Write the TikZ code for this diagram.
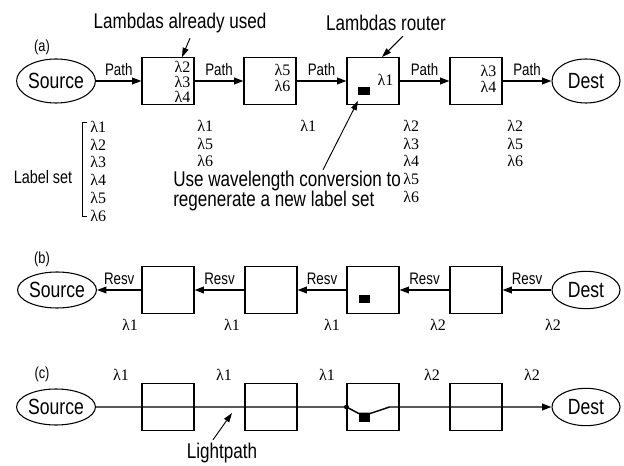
\documentclass[tikz,border=0pt]{standalone}
\usepackage{fontspec}
\setmainfont{Liberation Serif}
\newfontfamily\narrowsf[FakeStretch=0.8]{Liberation Sans}
\usetikzlibrary{shapes.geometric,arrows.meta,calc}

\begin{document}
\begin{tikzpicture}[
        x=0.75pt, y=-0.75pt,
        router/.style={
            draw,
            line width=0.8pt,
            minimum width=39pt,
            minimum height=35pt,
            inner sep=0pt
        },
        endpoint/.style={
            draw,
            ellipse,
            line width=0.8pt,
            minimum width=51pt,
            minimum height=33pt,
            inner sep=0pt,
            font=\narrowsf\fontsize{16.5}{16.5}\selectfont
        },
        note/.style={font=\narrowsf\fontsize{16}{15}\selectfont, inner sep=0pt},
        msg/.style={font=\narrowsf\fontsize{12.5}{12.5}\selectfont, inner sep=1pt, above=2.5pt},
        panel/.style={font=\narrowsf\fontsize{12}{12}\selectfont, inner sep=0pt},
        lam/.style={font=\fontsize{12}{13.3}\selectfont, inner sep=0pt, align=left},
        inlam/.style={font=\fontsize{12}{12.5}\selectfont, inner sep=0pt, align=right, anchor=east},
        conv/.style={fill=black, minimum width=8.5pt, minimum height=6.5pt, inner sep=0pt},
        link/.style={-{Triangle[length=7pt,width=5pt]}, line width=1.1pt},
        pointer/.style={-{Triangle[length=7pt,width=4.5pt]}, line width=0.7pt}
    ]
        \useasboundingbox (0,0) rectangle (624,466);

        % (a) path message
        \node[panel] (pa) at (42,47) {(a)};
        \node[note] (used) at (180,23) {Lambdas already used};
        \node[note] (rtr) at (386,23) {Lambdas router};

        \node[endpoint] (srcA) at (56,81) {Source};
        \node[router] (b1a) at (168,81) {};
        \node[router] (b2a) at (270,81) {};
        \node[router] (b3a) at (373,81) {};
        \node[router] (b4a) at (476,81) {};
        \node[endpoint] (dstA) at (586,81) {Dest};
        \node[conv] (wa) at (364,91) {};

        \node[inlam, font=\fontsize{12}{11}\selectfont] (l1a) at ($(b1a.east)+(-4,1)$) {λ2\\λ3\\λ4};
        \node[inlam] (l2a) at ($(b2a.east)+(-6,-3)$) {λ5\\λ6};
        \node[inlam] (l3a) at ($(b3a.east)+(-6,-1)$) {λ1};
        \node[inlam] (l4a) at ($(b4a.east)+(-6,-2)$) {λ3\\λ4};

        \draw[link] (srcA) -- node[msg] (pth1) {Path} (b1a);
        \draw[link] (b1a) -- node[msg] (pth2) {Path} (b2a);
        \draw[link] (b2a) -- node[msg] (pth3) {Path} (b3a);
        \draw[link] (b3a) -- node[msg] (pth4) {Path} (b4a);
        \draw[link] (b4a) -- node[msg] (pth5) {Path} (dstA);

        \draw[pointer] ($(used.south)+(10,5)$) -- ($(b1a.north)+(14,0)$);
        \draw[pointer] ($(rtr.south)+(17,5)$) -- ($(b3a.north)+(9,0)$);

        \node[panel, font=\narrowsf\fontsize{13.5}{13.5}\selectfont] (lset) at (43,177) {Label set};
        \node[lam, anchor=north west] (set0) at (90,121) {λ1\\λ2\\λ3\\λ4\\λ5\\λ6};
        \draw[line width=0.7pt] (87,122) -- (82,122) -- (82,216) -- (87,216);
        \node[lam, anchor=north west] (set1) at (197,120) {λ1\\λ5\\λ6};
        \node[lam, anchor=north west] (set2) at (300,120) {λ1};
        \node[lam, anchor=north west] (set3) at (403,120) {λ2\\λ3\\λ4\\λ5\\λ6};
        \node[lam, anchor=north west] (set4) at (507,120) {λ2\\λ5\\λ6};

        \node[note, align=left, anchor=west] (convtxt) at (173,191) {Use wavelength conversion to\\regenerate a new label set};
        \draw[pointer] ($(convtxt.north west)+(150,-1)$) -- ($(b3a.south)+(-15,-4)$);

        % (b) reservation message
        \node[panel] (pb) at (42,259) {(b)};
        \node[endpoint, minimum height=27pt] (srcB) at (57,290) {Source};
        \node[router] (b1b) at (168,290) {};
        \node[router] (b2b) at (271,290) {};
        \node[router] (b3b) at (373,290) {};
        \node[router] (b4b) at (476,290) {};
        \node[endpoint, minimum height=28pt] (dstB) at (586,290) {Dest};
        \node[conv] (wb) at (364.5,299) {};

        \draw[link] (dstB) -- node[msg] (rsv1) {Resv} (b4b);
        \draw[link] (b4b) -- node[msg] (rsv2) {Resv} (b3b);
        \draw[link] (b3b) -- node[msg] (rsv3) {Resv} (b2b);
        \draw[link] (b2b) -- node[msg] (rsv4) {Resv} (b1b);
        \draw[link] (b1b) -- node[msg] (rsv5) {Resv} (srcB);

        \node[lam] (lb1) at (130,325) {λ1};
        \node[lam] (lb2) at (232,325) {λ1};
        \node[lam] (lb3) at (332,325) {λ1};
        \node[lam] (lb4) at (438,325) {λ2};
        \node[lam] (lb5) at (553,325) {λ2};

        % (c) lightpath
        \node[panel] (pc) at (42,374) {(c)};
        \node[endpoint, minimum height=27pt] (srcC) at (56,407) {Source};
        \node[router] (b1c) at (168,407) {};
        \node[router] (b2c) at (271,407) {};
        \node[router] (b3c) at (373,407) {};
        \node[router] (b4c) at (476,407) {};
        \node[endpoint, minimum height=28pt] (dstC) at (586,407) {Dest};
        \node[conv] (wc) at (364.5,418) {};

        \node[lam] (lc1) at (121,375) {λ1};
        \node[lam] (lc2) at (224,375) {λ1};
        \node[lam] (lc3) at (327,375) {λ1};
        \node[lam] (lc4) at (432,375) {λ2};
        \node[lam] (lc5) at (532,375) {λ2};

        \draw[link] (srcC) -- (b3c.west) -- (wc.north west) -- (wc.north east) -- ($(b3c.east)+(-10,0)$) -- (dstC);
        \fill (b3c.west) circle (1.8pt);

        \node[note] (lp) at (222,453) {Lightpath};
        \coordinate (lptip) at (232,413);
        \draw[pointer] ($(lp.north)+(-9,-3)$) -- (lptip);
    \end{tikzpicture}
\end{document}
